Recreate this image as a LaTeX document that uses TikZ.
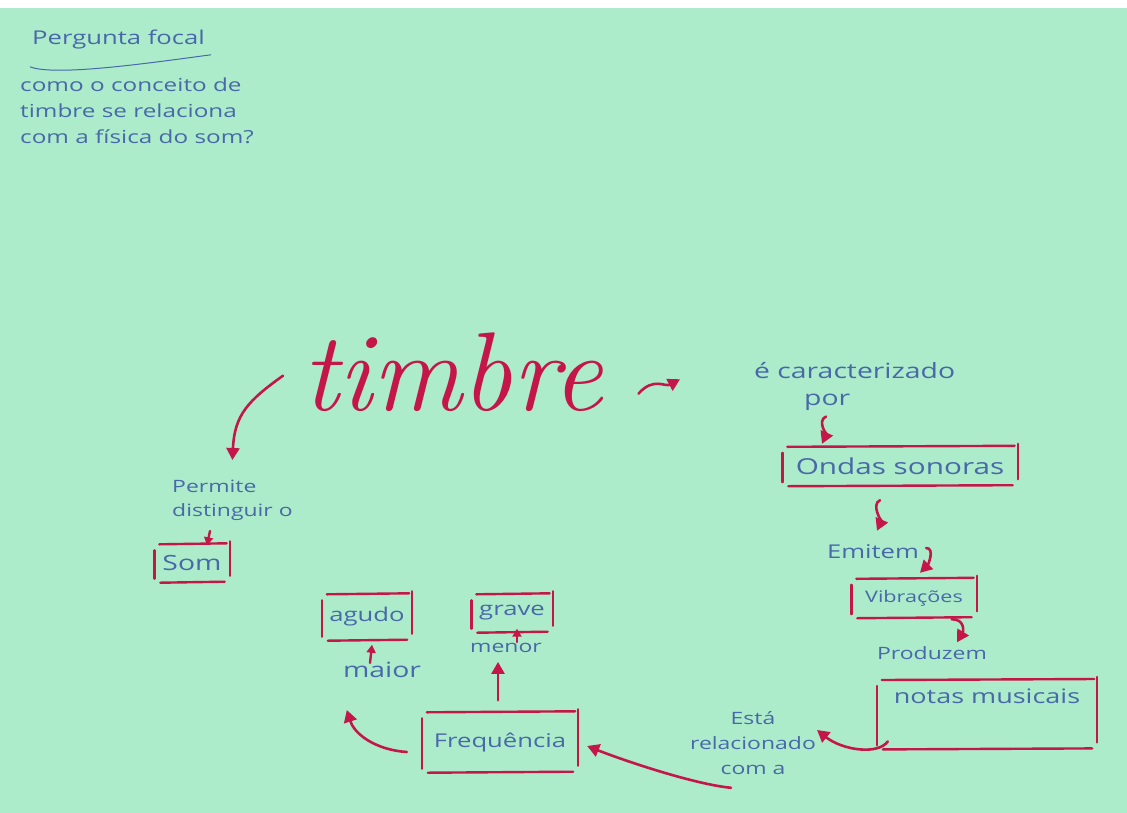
\documentclass[tikz,border=0pt]{standalone}
\usepackage{fontspec}
\newfontfamily\hand[FakeStretch=1.35]{Open Sans}
\usetikzlibrary{arrows.meta,calc}
\definecolor{paper}{RGB}{172,236,202}
\definecolor{crimson}{RGB}{196,22,72}
\definecolor{inkblue}{RGB}{72,104,170}
\begin{document}
\begin{tikzpicture}[x=1pt, y=-1pt,
    ink/.style 2 args={text=inkblue, font=\hand\fontsize{#1}{#2}\selectfont, inner sep=2pt},
    pen/.style={draw=crimson, line width=2.4pt, line cap=round},
    box/.style={inner sep=0pt, append after command={
        ($(\tikzlastnode.north west)+(5,0)$) edge[pen] ($(\tikzlastnode.north east)+(-3,-1)$)
        ($(\tikzlastnode.south west)+(6,1)$) edge[pen] ($(\tikzlastnode.south east)+(-5,0)$)
        ($(\tikzlastnode.north west)+(0,6)$) edge[pen] ($(\tikzlastnode.south west)+(0,-3)$)
        ($(\tikzlastnode.north east)+(0,-3)$) edge[pen] ($(\tikzlastnode.south east)+(0,-6)$)}},
    arr/.style={pen, line width=2.6pt, -{Triangle[length=12pt,width=13pt]}},
    tip/.style={pen, -{Triangle[length=8pt,width=9pt]}}]
\useasboundingbox (0,0) rectangle (1127,812);
\fill[paper] (-10,-10) rectangle (1140,825);
\fill[white] (-10,-10) rectangle (1140,8);

\node[ink={19}{24}, anchor=base west] (title) at (30,44) {Pergunta focal};
\draw[inkblue, line width=1pt] ($(title.south west)+(0,16)$) .. controls +(25,10) and +(-60,8) .. ($(title.south east)+(4,4)$);
\node[ink={18}{26}, anchor=north west, align=left] (question) at (18,76) {como o conceito de\\timbre se relaciona\\com a física do som?};

\node[font=\fontsize{112}{112}\selectfont\itshape, text=crimson, anchor=base west, inner sep=0pt] (timbre) at (302,410) {timbre};
\node[ink={21}{27}, anchor=north west, align=left] (carac) at (752,360) {é caracterizado\\\hspace*{50pt}por};

\node[ink={22}{26}, box, minimum width=235, minimum height=38] (ondas) at (900,466) {Ondas sonoras};
\node[ink={19}{24}] (emitem) at (873,552) {Emitem};
\node[ink={16}{20}, box, minimum width=125, minimum height=38] (vibr) at (914,598) {Vibrações};
\node[ink={17}{22}] (produzem) at (932,653) {Produzem};
\node[ink={20}{24}, box, inner sep=3pt, minimum width=220, text height=20pt, text depth=42pt, anchor=north] (notas) at (987,680) {notas musicais};

\node[ink={17}{25}, align=center] (relac) at (753,743) {Está\\relacionado\\com a};
\node[ink={19}{24}, box, minimum width=156, minimum height=59] (freq) at (500,742) {Frequência};
\node[ink={17}{22}] (menor) at (506,648) {menor};
\node[ink={19}{24}, box, minimum width=81, minimum height=37] (grave) at (512,613) {grave};
\node[ink={21}{26}] (maior) at (382,670) {maior};
\node[ink={19}{24}, box, minimum width=90, minimum height=45] (agudo) at (367,617) {agudo};

\node[ink={17}{24}, anchor=north west, align=left] (permite) at (170,478) {Permite\\distinguir o};
\node[ink={21}{26}, box, minimum width=75, minimum height=37] (som) at (192,563) {Som};

\draw[arr] ($(timbre.west)+(-19,4)$) .. controls +(-35,25) and +(2,-45) .. ($(permite.north)+(0,-18)$);
\draw[arr] ($(timbre.east)+(35,22)$) .. controls +(15,-17) and +(-15,8) .. ($(carac.west)+(-72,-7)$);
\draw[arr] ($(carac.south west)+(74,4)$) .. controls +(-9,4) and +(4,-9) .. ($(ondas.north)+(-78,-3)$);
\draw[arr] ($(ondas.south)+(-20,15)$) .. controls +(-9,4) and +(4,-9) .. ($(emitem.north)+(4,-12)$);
\draw[arr] ($(emitem.east)+(5,-4)$) .. controls +(9,0) and +(8,-8) .. ($(vibr.north)+(6,-6)$);
\draw[arr] ($(vibr.south east)+(-25,2)$) .. controls +(14,0) and +(6,-10) .. ($(produzem.north)+(25,-2)$);
\draw[arr] ($(notas.south west)+(11,-7)$) .. controls +(-10,14) and +(25,20) .. ($(relac.east)+(-1,-13)$);
\draw[arr] ($(relac.south)+(-22,11)$) .. controls +(-40,-4) and +(30,12) .. ($(freq.east)+(9,4)$);
\draw[arr] ($(freq.west)+(-15,10)$) .. controls +(-30,-2) and +(8,25) .. ($(maior.south west)+(6,30)$);
\draw[arr] ($(freq.north)+(-2,-12)$) -- ($(menor.south)+(-8,7)$);
\draw[tip] ($(menor.north)+(11,1)$) -- ($(grave.south)+(5,-3)$);
\draw[tip] ($(maior.north)+(-12,3)$) -- ($(agudo.south)+(5,5)$);
\draw[tip] ($(permite.south west)+(40,8)$) -- ($(som.north)+(15,1)$);
\end{tikzpicture}
\end{document}
